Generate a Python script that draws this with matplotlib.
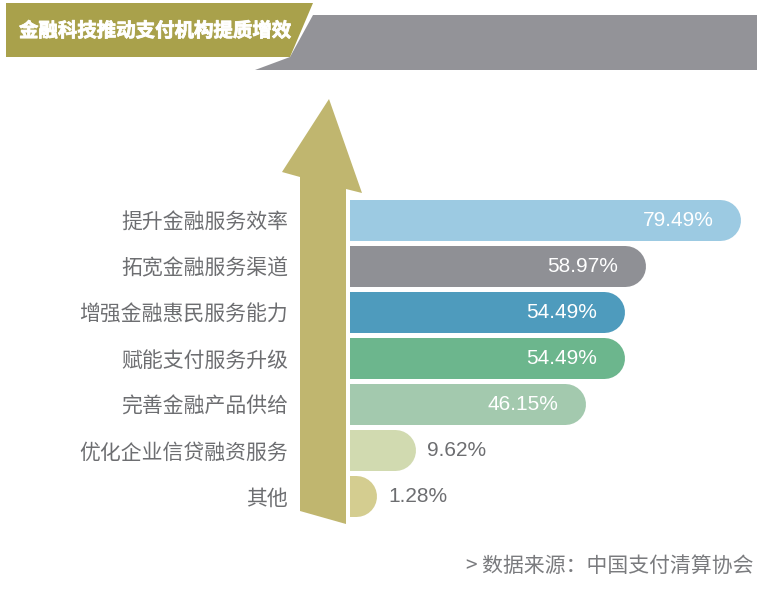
import matplotlib.pyplot as plt
import matplotlib.patheffects as pe
from matplotlib.patches import Polygon

plt.rcParams['font.family'] = ['Noto Sans CJK SC', 'DejaVu Sans']

# ---- data ----
categories = ["提升金融服务效率", "拓宽金融服务渠道", "增强金融惠民服务能力",
              "赋能支付服务升级", "完善金融产品供给", "优化企业信贷融资服务", "其他"]
values = [79.49, 58.97, 54.49, 54.49, 46.15, 9.62, 1.28]
colors = ["#9ccae2", "#8f9095", "#4e9bbd", "#6cb68d", "#a3c9ae", "#d1dab0", "#d4cd90"]

TITLE = "金融科技推动支付机构提质增效"
SOURCE = "> 数据来源：中国支付清算协会"

OLIVE = "#a9a14b"
BANNER_GRAY = "#939398"
ARROW = "#c0b66f"
TEXT_GRAY = "#6d6e71"

W, H = 767, 596
fig = plt.figure(figsize=(W / 100, H / 100), dpi=100)

# background layer in pixel coordinates (banner, arrow, source note)
bg = fig.add_axes([0, 0, 1, 1])
bg.set_xlim(0, W)
bg.set_ylim(H, 0)
bg.axis("off")

bg.add_patch(Polygon([(255, 70), (757, 70), (757, 15), (313, 15), (290, 57)],
                     closed=True, color=BANNER_GRAY, lw=0))
bg.add_patch(Polygon([(6, 3), (313, 3), (290, 57), (6, 57)],
                     closed=True, color=OLIVE, lw=0))
bg.text(19, 31, TITLE, color="white", fontsize=14, fontweight="bold",
        va="center", ha="left",
        path_effects=[pe.withStroke(linewidth=0.6, foreground="white")])

bg.add_patch(Polygon([(329, 99), (362, 193), (346, 189), (346, 524),
                      (300, 511), (300, 177), (282, 172)],
                     closed=True, color=ARROW, lw=0))

bg.text(754, 566, SOURCE, color="#7a7b7e", fontsize=15, ha="right", va="center")

# ---- bars ----
px = 100 / 72  # pixels per point
ax = fig.add_axes([350 / W, (H - 519) / H, 417 / W, 322 / H])
ax.patch.set_alpha(0)
ax.set_xlim(0, 89.5)
ax.set_ylim(6.5, -0.5)

for i, (v, c) in enumerate(zip(values, colors)):
    ax.plot([-5, v], [i, i], color=c, lw=41 / px, solid_capstyle="round")
    if v > 20:
        ax.annotate(f"{v:.2f}%", (v, i), xytext=(-7 / px, 0), textcoords="offset points",
                    ha="right", va="center", color="white", fontsize=15,
                    family="Liberation Sans")
    else:
        ax.annotate(f"{v:.2f}%", (v, i), xytext=(32 / px, 0), textcoords="offset points",
                    ha="left", va="center", color=TEXT_GRAY, fontsize=15,
                    family="Liberation Sans")

ax.set_yticks(range(len(categories)), labels=categories)
ax.tick_params(axis="y", length=0, pad=62 / px, labelsize=15, labelcolor=TEXT_GRAY)
ax.set_xticks([])
for s in ax.spines.values():
    s.set_visible(False)

fig.savefig("out.png", dpi=100)
